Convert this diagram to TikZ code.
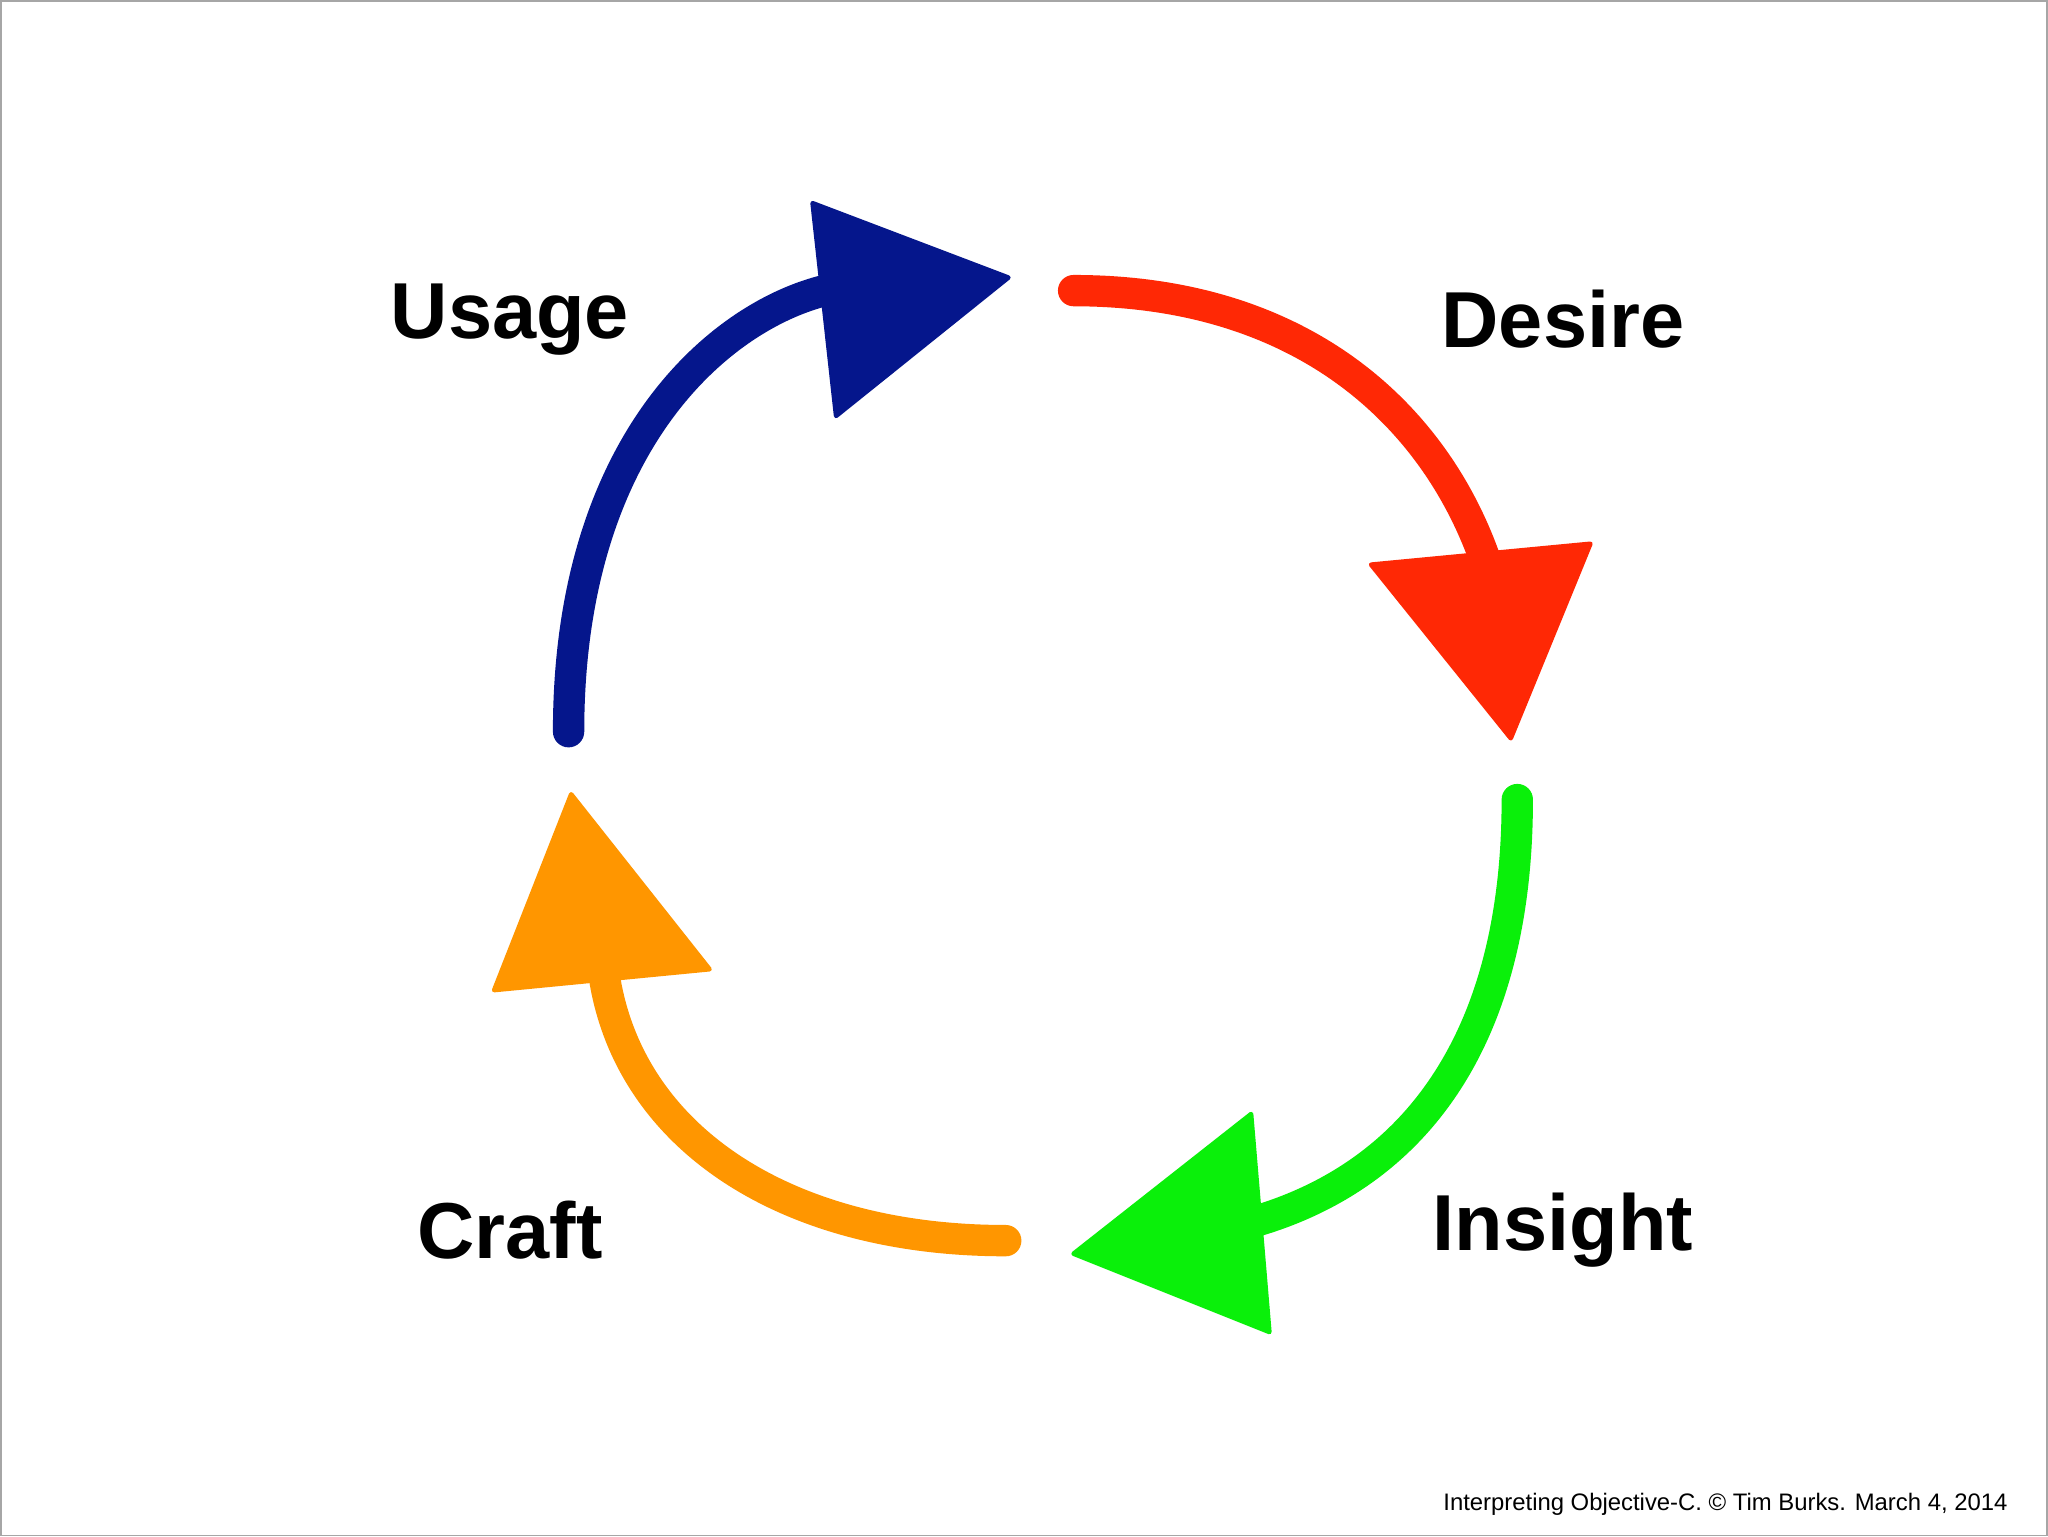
\documentclass[tikz,border=0pt]{standalone}
\usepackage{fontspec}
\setmainfont{Liberation Sans}
\definecolor{cblue}{RGB}{5,22,140}
\definecolor{cred}{RGB}{255,40,5}
\definecolor{cgreen}{RGB}{10,240,10}
\definecolor{corange}{RGB}{255,150,0}
\begin{document}
\begin{tikzpicture}[x=0.01cm,y=-0.01cm,
  shaft/.style={line width=0.24cm,line cap=round},
  head/.style={line join=round,line width=1pt},
  lbl/.style={font=\fontsize{17.3}{20}\selectfont\bfseries}]
\draw[gray!70,fill=white] (0,0) rectangle (1568,1176);
% blue
\draw[shaft,cblue] (435,560) .. controls (435,330) and (560,235) .. (640,220);
\fill[head,cblue,draw=cblue] (622,155) -- (772,212) -- (640,318) -- cycle;
% red
\draw[shaft,cred] (822,222) .. controls (1000,222) and (1100,320) .. (1138,430);
\fill[head,cred,draw=cred] (1050,432) -- (1218,416) -- (1157,565) -- cycle;
% green
\draw[shaft,cgreen] (1162,612) .. controls (1162,800) and (1080,900) .. (962,935);
\fill[head,cgreen,draw=cgreen] (958,853) -- (972,1020) -- (822,960) -- cycle;
% orange
\draw[shaft,corange] (770,950) .. controls (600,950) and (480,870) .. (462,745);
\fill[head,corange,draw=corange] (437,608) -- (543,742) -- (378,758) -- cycle;
\node[lbl] (usage) at (390,244) {Usage};
\node[lbl] (desire) at (1197,244) {Desire};
\node[lbl] (craft) at (390,942) {Craft};
\node[lbl] (insight) at (1197,942) {Insight};
\node[anchor=east,font=\fontsize{5.2}{6}\selectfont] (foot) at (1550,1152) {Interpreting Objective-C. © Tim Burks. March 4, 2014};
\end{tikzpicture}
\end{document}
